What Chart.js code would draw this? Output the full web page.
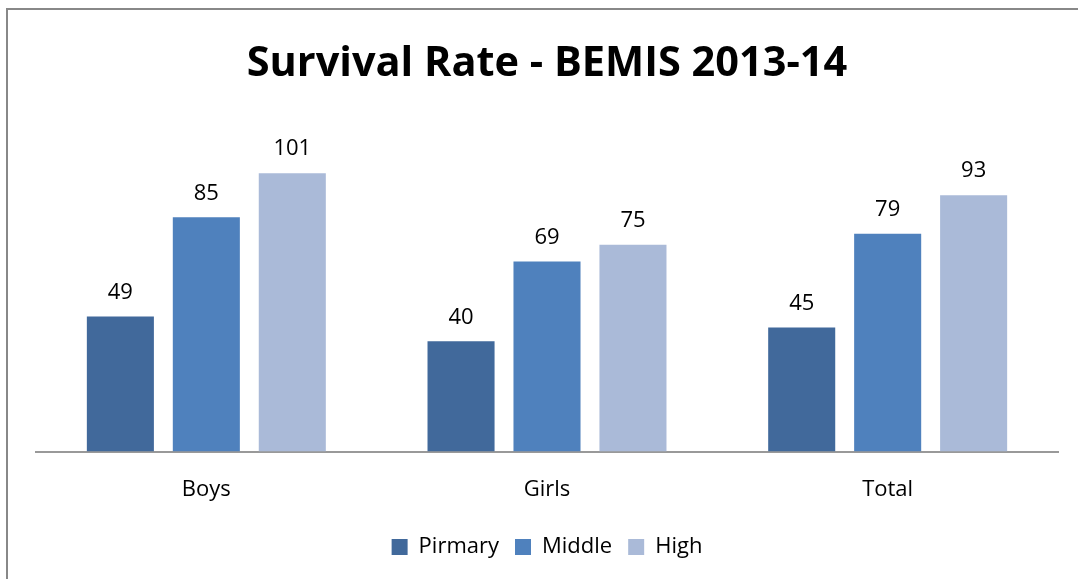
<!DOCTYPE html>
<html>
<head>
<meta charset="utf-8">
<script src="https://cdn.jsdelivr.net/npm/chart.js@4/dist/chart.umd.min.js"></script>
<style>
  html, body { margin: 0; padding: 0; background: #fff; }
  #wrap { position: relative; width: 1078px; height: 579px; }
</style>
</head>
<body>
<div id="wrap"><canvas id="myChart"></canvas></div>
<script>
// Data for the bar graph
const categories = ["Boys", "Girls", "Total"];
const seriesNames = ["Pirmary", "Middle", "High"];
const primary = [49, 40, 45];
const middle = [85, 69, 79];
const high = [101, 75, 93];
const colors = ["#41699B", "#4F81BD", "#AABAD8"];

const fontFamily = "'Open Sans', 'Liberation Sans', sans-serif";

// frame lines on the top and left, like the source picture
const framePlugin = {
	id: 'frame',
	beforeDraw(chart) {
		const c = chart.ctx;
		c.save();
		c.fillStyle = '#fff';
		c.fillRect(0, 0, chart.width, chart.height);
		c.strokeStyle = '#888';
		c.lineWidth = 2;
		c.beginPath();
		c.moveTo(7, chart.height);
		c.lineTo(7, 9);
		c.lineTo(chart.width, 9);
		c.stroke();
		c.restore();
	}
};

// value labels above each bar
const valueLabels = {
	id: 'valueLabels',
	afterDatasetsDraw(chart) {
		const c = chart.ctx;
		c.save();
		c.font = "22px " + fontFamily;
		c.fillStyle = '#000';
		c.textAlign = 'center';
		c.textBaseline = 'bottom';
		chart.data.datasets.forEach((ds, i) => {
			chart.getDatasetMeta(i).data.forEach((bar, j) => {
				c.fillText(ds.data[j], bar.x, bar.y - 13);
			});
		});
		c.restore();
	}
};

let ctx = document.getElementById("myChart");

const config = {
	type: 'bar',
	data: {
		labels: categories,
		datasets: [
			{ label: seriesNames[0], data: primary, backgroundColor: colors[0] },
			{ label: seriesNames[1], data: middle, backgroundColor: colors[1] },
			{ label: seriesNames[2], data: high, backgroundColor: colors[2] }
		]
	},
	options: {
		responsive: true,
		maintainAspectRatio: false,
		animation: false,
		categoryPercentage: 0.757,
		barPercentage: 0.78,
		layout: { padding: { left: 36, right: 20, bottom: 11 } },
		plugins: {
			title: {
				display: true,
				text: "Survival Rate - BEMIS 2013-14",
				color: '#000',
				font: { family: fontFamily, size: 41.5, weight: 'bold' },
				padding: { top: 39, bottom: 32 }
			},
			legend: {
				display: true,
				position: 'bottom',
				labels: {
					color: '#000',
					font: { family: fontFamily, size: 22 },
					boxWidth: 16,
					boxHeight: 16,
					padding: 16
				}
			},
			tooltip: { enabled: false }
		},
		scales: {
			x: {
				grid: { display: false },
				border: { display: true, color: '#999', width: 2 },
				ticks: {
					color: '#000',
					font: { family: fontFamily, size: 22 },
					padding: 17
				}
			},
			y: {
				display: false,
				min: 0,
				max: 120
			}
		}
	},
	plugins: [framePlugin, valueLabels]
};

let myChart = new Chart(ctx, config);
</script>
</body>
</html>
